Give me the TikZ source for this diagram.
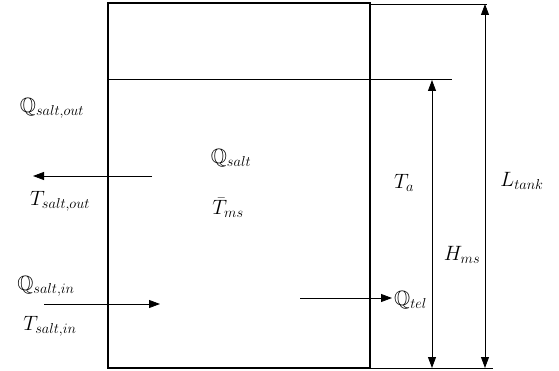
\documentclass[tikz,border=0pt]{standalone}
\usepackage{amssymb}
\usetikzlibrary{arrows.meta}
\tikzset{
	flow/.style={-{Triangle[length=11pt,width=8pt]}, line width=0.8pt},
	dimline/.style={{Triangle[length=11pt,width=8pt]}-{Triangle[length=11pt,width=8pt]}, line width=0.8pt},
	lbl/.style={font=\huge, inner sep=1pt}
}
\begin{document}
\begin{tikzpicture}[x=1pt,y=-1pt]
\useasboundingbox (0,0) rectangle (559,371);
% tank and salt level
\draw[line width=1.3pt] (108,3) rectangle (370,368);
\coordinate (lvlL) at (108,80);
\coordinate (lvlR) at (452,80);
\draw[line width=1pt] (lvlL) -- (lvlR);
% extension lines
\coordinate (topL) at (370,4);
\coordinate (topR) at (487,4);
\coordinate (botL) at (370,368);
\coordinate (botR) at (493,368);
\draw[line width=0.8pt] (topL) -- (topR);
\draw[line width=0.8pt] (botL) -- (botR);
% dimensions
\coordinate (Ltop) at (485,4);
\coordinate (Lbot) at (485,368);
\coordinate (Htop) at (432,80);
\coordinate (Hbot) at (432,368);
\draw[dimline] (Lbot) -- (Ltop);
\draw[dimline] (Hbot) -- (Htop);
\node[lbl] (Ltank) at (522,181) {$L_{tank}$};
\node[lbl] (Hms) at (462,255) {$H_{ms}$};
\node[lbl] (Ta) at (404,183) {$T_a$};
% inside
\node[lbl] (Qsalt) at (231,158) {$\mathbb{Q}_{salt}$};
\node[lbl] (Tms) at (228,208) {$\bar{T}_{ms}$};
% outlet
\coordinate (outA) at (152,176);
\coordinate (outB) at (33,176);
\draw[flow] (outA) -- (outB);
\node[lbl] (Qout) at (52,108) {$\mathbb{Q}_{salt,out}$};
\node[lbl] (Tout) at (60,201) {$T_{salt,out}$};
% inlet
\coordinate (inA) at (44,304);
\coordinate (inB) at (160,304);
\draw[flow] (inA) -- (inB);
\node[lbl] (Qin) at (46,286) {$\mathbb{Q}_{salt,in}$};
\node[lbl] (Tin) at (50,326) {$T_{salt,in}$};
% heat loss
\coordinate (telA) at (300,298);
\coordinate (telB) at (392,298);
\draw[flow] (telA) -- (telB);
\node[lbl, anchor=west] (Qtel) at (393,300) {$\mathbb{Q}_{tel}$};
\end{tikzpicture}
\end{document}
